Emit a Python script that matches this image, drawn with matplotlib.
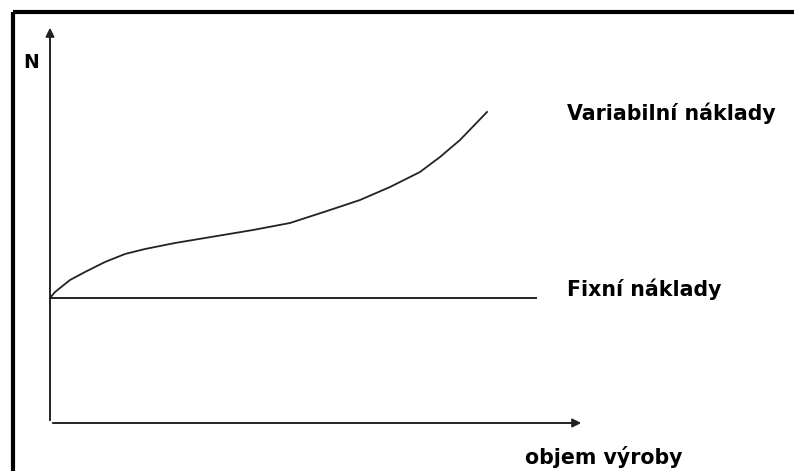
import matplotlib.pyplot as plt

# objem vyroby (x) a naklady (y), schematicke hodnoty
objem = [0, 0.5, 2.0, 3.5, 5.5, 7.5, 9.5, 12.5, 15.5, 18.5, 20.3, 24, 28, 31, 34, 37, 39, 41, 43.7]
variabilni = [12.5, 13.1, 14.3, 15.1, 16.1, 16.9, 17.4, 18.0, 18.5, 19.0, 19.3, 20.0,
              21.3, 22.3, 23.6, 25.1, 26.6, 28.3, 31.1]
fixni_x = [0, 48.6]
fixni = [12.5, 12.5]

plt.rcParams['font.family'] = ['DejaVu Sans']

fig = plt.figure(figsize=(7.94, 4.71), dpi=100)
ax = fig.add_axes([0, 0, 1, 1])
ax.set_xlim(-5.0, 74.4)
ax.set_ylim(-4.8, 42.3)
ax.axis('off')

# ramecek (jen horni a leva strana)
ax.plot([-3.7, 74.4], [41.1, 41.1], color='black', lw=3, solid_capstyle='butt')
ax.plot([-3.7, -3.7], [41.1, -4.8], color='black', lw=3, solid_capstyle='butt')

# osy se sipkami
arrow = dict(arrowstyle='-|>,head_length=0.5,head_width=0.25', color='#222222', lw=1.4)
ax.annotate('', xy=(0, 39.8), xytext=(0, 0), arrowprops=arrow)
ax.annotate('', xy=(53.4, 0), xytext=(0, 0), arrowprops=arrow)

# krivky
ax.plot(objem, variabilni, color='#222222', lw=1.3)
ax.plot(fixni_x, fixni, color='#222222', lw=1.4)

ax.text(-1.9, 36.0, 'N', fontsize=13.5, fontweight='bold', ha='center', va='center')
ax.text(51.7, 31.0, 'Variabilní náklady', fontsize=14.8, fontweight='bold', va='center')
ax.text(51.7, 13.4, 'Fixní náklady', fontsize=14.8, fontweight='bold', va='center')
ax.text(47.5, -3.4, 'objem výroby', fontsize=14.8, fontweight='bold', va='center')

fig.savefig('out.png', dpi=100)
